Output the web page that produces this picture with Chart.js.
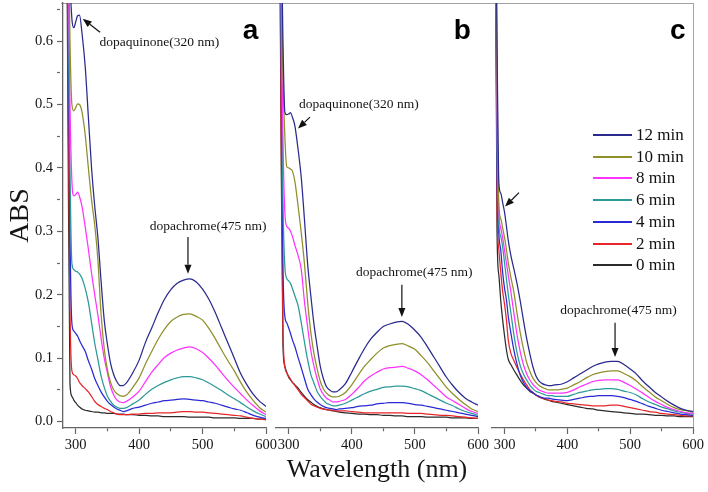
<!DOCTYPE html>
<html><head><meta charset="utf-8">
<script src="https://cdn.jsdelivr.net/npm/chart.js@4.4.1/dist/chart.umd.min.js"></script>
<style>
html,body{margin:0;padding:0;background:#fff;}
#wrap{position:relative;width:708px;height:492px;overflow:hidden;background:#fff;}
canvas{position:absolute;top:0;}
#frame{position:absolute;left:61px;top:2.5px;width:633px;height:426px;border-top:1.6px solid #a3a3a3;border-right:1.6px solid #a3a3a3;box-sizing:border-box;}
#legend{position:absolute;left:593px;top:124px;font-family:'Liberation Serif','Times New Roman',serif;font-size:17px;color:#111;}
.row{height:22px;margin-bottom:-0.3px;display:flex;align-items:center;white-space:nowrap;}
.sw{width:39px;height:2px;margin-right:4px;}
</style></head>
<body>
<div id="wrap">
  <div id="frame"></div>
  <canvas id="ca" width="280" height="492" style="left:0px"></canvas>
  <canvas id="cb" width="230" height="492" style="left:262px"></canvas>
  <canvas id="cc" width="230" height="492" style="left:478px"></canvas>
  <div id="legend"></div>
</div>
<script>
// ---------------- data ----------------
const wavelengths = [285,288,291,294,297,300,303,306,310,315,320,325,330,335,340,345,350,355,360,365,370,375,380,390,400,410,420,430,440,450,460,470,480,490,500,510,520,530,540,550,560,570,580,590,600];
const seriesLabels = ['12 min','10 min','8 min','6 min','4 min','2 min','0 min'];
const seriesColors = ['#2a2a8e','#8f8f2a','#ff33ff','#2b9999','#2a2ad4','#e8262a','#2b2b2b'];

// panel a
const a12 = [0.95,0.85,0.70,0.635,0.621,0.630,0.640,0.641,0.612,0.560,0.480,0.400,0.340,0.290,0.222,0.160,0.122,0.092,0.074,0.063,0.057,0.057,0.061,0.077,0.097,0.125,0.148,0.172,0.193,0.208,0.218,0.223,0.225,0.220,0.209,0.193,0.172,0.148,0.124,0.100,0.076,0.058,0.043,0.032,0.024];
const a10 = [0.95,0.80,0.60,0.500,0.490,0.495,0.501,0.500,0.488,0.452,0.400,0.350,0.310,0.255,0.170,0.115,0.082,0.062,0.050,0.044,0.041,0.040,0.042,0.054,0.069,0.091,0.111,0.130,0.146,0.158,0.165,0.169,0.170,0.166,0.160,0.147,0.131,0.113,0.096,0.080,0.062,0.046,0.033,0.022,0.015];
const a8  = [0.95,0.75,0.50,0.380,0.356,0.358,0.362,0.355,0.339,0.307,0.272,0.234,0.200,0.168,0.132,0.100,0.077,0.055,0.042,0.034,0.031,0.030,0.032,0.039,0.048,0.063,0.078,0.090,0.101,0.108,0.113,0.116,0.118,0.115,0.109,0.100,0.089,0.077,0.065,0.054,0.044,0.034,0.025,0.017,0.011];
const a6  = [0.95,0.70,0.40,0.250,0.240,0.237,0.236,0.233,0.226,0.210,0.188,0.156,0.124,0.098,0.072,0.054,0.040,0.032,0.026,0.023,0.021,0.021,0.022,0.028,0.034,0.043,0.051,0.057,0.062,0.066,0.069,0.071,0.071,0.069,0.066,0.061,0.055,0.049,0.042,0.036,0.030,0.023,0.017,0.012,0.008];
const a4  = [0.95,0.65,0.30,0.155,0.143,0.139,0.135,0.128,0.120,0.111,0.096,0.083,0.068,0.057,0.047,0.039,0.032,0.027,0.023,0.020,0.018,0.016,0.017,0.021,0.023,0.026,0.029,0.031,0.033,0.034,0.035,0.036,0.035,0.034,0.033,0.031,0.029,0.026,0.023,0.020,0.018,0.014,0.010,0.007,0.005];
const a2  = [0.95,0.55,0.18,0.080,0.074,0.072,0.068,0.062,0.057,0.052,0.047,0.040,0.032,0.027,0.024,0.021,0.019,0.016,0.014,0.012,0.011,0.011,0.011,0.012,0.012,0.013,0.013,0.014,0.014,0.014,0.015,0.016,0.016,0.015,0.015,0.014,0.013,0.012,0.011,0.010,0.009,0.007,0.005,0.004,0.003];
const a0  = [0.95,0.45,0.06,0.040,0.034,0.030,0.026,0.023,0.020,0.018,0.017,0.016,0.015,0.015,0.014,0.014,0.013,0.013,0.013,0.012,0.012,0.012,0.011,0.011,0.010,0.010,0.009,0.009,0.008,0.008,0.008,0.008,0.007,0.007,0.007,0.007,0.006,0.006,0.006,0.006,0.005,0.005,0.005,0.004,0.004];

// panel b
const b12 = [0.95,0.80,0.60,0.488,0.484,0.485,0.487,0.480,0.466,0.429,0.385,0.320,0.250,0.200,0.155,0.120,0.088,0.068,0.055,0.050,0.047,0.047,0.050,0.060,0.078,0.097,0.115,0.130,0.141,0.150,0.154,0.157,0.158,0.153,0.144,0.133,0.118,0.102,0.086,0.070,0.057,0.046,0.037,0.031,0.026];
const b10 = [0.95,0.75,0.55,0.45,0.402,0.400,0.398,0.395,0.378,0.340,0.298,0.250,0.190,0.142,0.108,0.084,0.064,0.052,0.045,0.041,0.039,0.039,0.040,0.046,0.058,0.073,0.087,0.098,0.108,0.116,0.120,0.122,0.123,0.119,0.114,0.104,0.093,0.080,0.067,0.054,0.044,0.035,0.027,0.020,0.016];
const b8  = [0.95,0.70,0.45,0.33,0.308,0.305,0.300,0.292,0.278,0.262,0.240,0.190,0.150,0.113,0.088,0.068,0.052,0.043,0.037,0.034,0.031,0.031,0.032,0.035,0.043,0.053,0.064,0.072,0.078,0.083,0.085,0.086,0.087,0.084,0.080,0.074,0.066,0.057,0.048,0.039,0.033,0.027,0.021,0.016,0.013];
const b6  = [0.95,0.65,0.35,0.245,0.226,0.222,0.218,0.210,0.198,0.183,0.156,0.126,0.098,0.075,0.061,0.048,0.040,0.034,0.029,0.027,0.025,0.025,0.026,0.029,0.034,0.039,0.044,0.048,0.051,0.054,0.055,0.056,0.056,0.055,0.052,0.049,0.044,0.039,0.034,0.029,0.025,0.020,0.016,0.013,0.010];
const b4  = [0.95,0.60,0.25,0.166,0.156,0.148,0.139,0.129,0.118,0.101,0.085,0.068,0.052,0.043,0.036,0.031,0.027,0.024,0.022,0.021,0.020,0.019,0.020,0.021,0.022,0.024,0.025,0.026,0.028,0.029,0.030,0.030,0.030,0.029,0.027,0.026,0.024,0.022,0.020,0.018,0.016,0.014,0.012,0.010,0.008];
const b2  = [0.95,0.50,0.15,0.088,0.077,0.072,0.067,0.062,0.057,0.050,0.043,0.038,0.033,0.028,0.025,0.023,0.021,0.020,0.019,0.018,0.018,0.017,0.017,0.017,0.016,0.015,0.014,0.014,0.014,0.014,0.014,0.014,0.014,0.013,0.013,0.013,0.012,0.011,0.010,0.010,0.009,0.008,0.007,0.006,0.005];
const b0  = [0.95,0.45,0.12,0.087,0.078,0.070,0.066,0.062,0.058,0.053,0.046,0.040,0.035,0.031,0.027,0.024,0.022,0.020,0.019,0.018,0.017,0.016,0.015,0.014,0.013,0.012,0.012,0.011,0.011,0.010,0.010,0.009,0.009,0.008,0.008,0.008,0.007,0.007,0.007,0.007,0.006,0.006,0.006,0.005,0.005];

// panel c
const c12 = [0.95,0.60,0.375,0.360,0.345,0.330,0.308,0.285,0.262,0.240,0.217,0.190,0.160,0.132,0.108,0.087,0.072,0.064,0.060,0.058,0.057,0.057,0.058,0.059,0.063,0.069,0.075,0.081,0.087,0.091,0.094,0.095,0.095,0.090,0.083,0.075,0.064,0.055,0.046,0.039,0.032,0.026,0.021,0.018,0.016];
const c10 = [0.95,0.55,0.340,0.320,0.305,0.290,0.271,0.250,0.228,0.203,0.170,0.140,0.115,0.094,0.080,0.069,0.062,0.057,0.054,0.052,0.050,0.050,0.050,0.051,0.053,0.058,0.063,0.069,0.074,0.077,0.079,0.080,0.080,0.076,0.071,0.064,0.055,0.047,0.039,0.033,0.027,0.022,0.019,0.017,0.015];
const c8  = [0.95,0.50,0.330,0.305,0.290,0.270,0.250,0.230,0.205,0.170,0.136,0.110,0.090,0.076,0.066,0.059,0.054,0.050,0.048,0.046,0.045,0.045,0.045,0.045,0.046,0.050,0.055,0.059,0.063,0.065,0.066,0.066,0.066,0.062,0.057,0.051,0.045,0.038,0.032,0.027,0.022,0.019,0.016,0.014,0.013];
const c6  = [0.95,0.45,0.310,0.292,0.275,0.250,0.225,0.200,0.172,0.136,0.108,0.088,0.075,0.066,0.058,0.052,0.048,0.046,0.044,0.042,0.041,0.041,0.040,0.040,0.040,0.043,0.046,0.048,0.050,0.051,0.052,0.052,0.051,0.048,0.046,0.042,0.036,0.031,0.027,0.023,0.020,0.017,0.015,0.013,0.012];
const c4  = [0.95,0.40,0.295,0.270,0.235,0.210,0.192,0.165,0.140,0.112,0.090,0.073,0.062,0.054,0.049,0.046,0.042,0.040,0.038,0.037,0.037,0.036,0.035,0.034,0.033,0.035,0.037,0.039,0.040,0.041,0.041,0.041,0.040,0.038,0.035,0.032,0.028,0.024,0.021,0.018,0.016,0.014,0.012,0.011,0.010];
const c2  = [0.95,0.35,0.270,0.235,0.205,0.185,0.160,0.128,0.108,0.096,0.085,0.075,0.066,0.058,0.051,0.046,0.042,0.039,0.037,0.036,0.034,0.033,0.032,0.031,0.029,0.028,0.027,0.026,0.025,0.025,0.025,0.026,0.026,0.024,0.022,0.020,0.018,0.016,0.015,0.013,0.012,0.011,0.010,0.009,0.009];
const c0  = [0.95,0.30,0.230,0.190,0.160,0.135,0.113,0.098,0.090,0.081,0.073,0.065,0.058,0.053,0.048,0.045,0.042,0.039,0.037,0.035,0.034,0.032,0.031,0.029,0.027,0.025,0.023,0.021,0.020,0.018,0.017,0.016,0.015,0.014,0.013,0.012,0.012,0.011,0.010,0.010,0.009,0.009,0.008,0.008,0.008];

// ---------------- styling / layout ----------------
const SERIF = "'Liberation Serif','Times New Roman',serif";
const SANS = "'Liberation Sans',Arial,sans-serif";
const AXIS_COLOR = '#666';
const TEXT_COLOR = '#151515';
const noteFont = '13.5px ' + SERIF;

const panels = [
  { id:'ca', series:[a12,a10,a8,a6,a4,a2,a0], padL:0, padR:14, showY:true, xTitle:false,
    notes:[
      {kind:'text', text:'dopaquinone(320 nm)', x:432, y:0.598},
      {kind:'arrow', from:[338.4,0.614], to:[311,0.635]},
      {kind:'text', text:'dopachrome(475 nm)', x:508.7, y:0.307},
      {kind:'arrow', from:[477,0.291], to:[477,0.233]},
      {kind:'letter', text:'a', x:588, y:0.6027}
    ]},
  { id:'cb', series:[b12,b10,b8,b6,b4,b2,b0], padL:14, padR:14, showY:false, xTitle:true,
    notes:[
      {kind:'text', text:'dopaquinone(320 nm)', x:411.3, y:0.500},
      {kind:'arrow', from:[333.8,0.480], to:[314.8,0.462]},
      {kind:'text', text:'dopachrome(475 nm)', x:499, y:0.235},
      {kind:'arrow', from:[479.4,0.216], to:[479.4,0.165]},
      {kind:'letter', text:'b', x:588.5, y:0.6027}
    ]},
  { id:'cc', series:[c12,c10,c8,c6,c4,c2,c0], padL:14, padR:15, showY:false, xTitle:false,
    notes:[
      {kind:'arrow', from:[323,0.361], to:[300.7,0.339]},
      {kind:'text', text:'dopachrome(475 nm)', x:481.4, y:0.176},
      {kind:'arrow', from:[475.9,0.156], to:[475.9,0.102]},
      {kind:'letter', text:'c', x:588, y:0.6027}
    ]}
];

const notesPlugin = {
  id:'notes',
  afterDatasetsDraw(chart, args, opts){
    const ctx = chart.ctx, xs = chart.scales.x, ys = chart.scales.y;
    ctx.save();
    (opts.items || []).forEach(n => {
      ctx.fillStyle = TEXT_COLOR; ctx.strokeStyle = '#111';
      if (n.kind === 'text') {
        ctx.font = noteFont; ctx.textAlign = 'center'; ctx.textBaseline = 'middle';
        ctx.fillText(n.text, xs.getPixelForValue(n.x), ys.getPixelForValue(n.y));
      } else if (n.kind === 'letter') {
        ctx.font = 'bold 28px ' + SANS; ctx.textAlign = 'right'; ctx.textBaseline = 'alphabetic';
        ctx.fillStyle = '#000';
        ctx.fillText(n.text, xs.getPixelForValue(n.x), ys.getPixelForValue(n.y));
      } else if (n.kind === 'arrow') {
        const x0 = xs.getPixelForValue(n.from[0]), y0 = ys.getPixelForValue(n.from[1]);
        const x1 = xs.getPixelForValue(n.to[0]), y1 = ys.getPixelForValue(n.to[1]);
        const ang = Math.atan2(y1 - y0, x1 - x0), L = 9, W = 3.5;
        const bx = x1 - L * Math.cos(ang), by = y1 - L * Math.sin(ang);
        ctx.lineWidth = 1.2;
        ctx.beginPath(); ctx.moveTo(x0, y0); ctx.lineTo(bx, by); ctx.stroke();
        ctx.beginPath();
        ctx.moveTo(x1, y1);
        ctx.lineTo(bx + W * Math.sin(ang), by - W * Math.cos(ang));
        ctx.lineTo(bx - W * Math.sin(ang), by + W * Math.cos(ang));
        ctx.closePath(); ctx.fillStyle = '#111'; ctx.fill();
      }
    });
    ctx.restore();
  }
};

function isMajorX(v){ return Math.round(v) % 100 === 0; }
function isMajorY(v){ return Math.round(v * 100) % 10 === 0; }

panels.forEach(p => {
  const datasets = p.series.map((vals, i) => ({
    label: seriesLabels[i],
    data: wavelengths.map((w, k) => ({x: w, y: vals[k]})),
    borderColor: seriesColors[i],
    backgroundColor: seriesColors[i],
    borderWidth: 1.25,
    pointRadius: 0,
    fill: false,
    cubicInterpolationMode: 'monotone'
  }));
  new Chart(document.getElementById(p.id), {
    type: 'line',
    data: { datasets },
    plugins: [notesPlugin],
    options: {
      responsive: false, animation: false, devicePixelRatio: 1,
      layout: { padding: { left: p.padL, right: p.padR, top: 3, bottom: 0 } },
      plugins: { legend: { display: false }, tooltip: { enabled: false }, notes: { items: p.notes } },
      scales: {
        x: {
          type: 'linear', min: 280, max: 600,
          afterFit(s){ s.height = 64; s.paddingLeft = 0; s.paddingRight = 0; },
          ticks: {
            stepSize: 50, includeBounds: false, autoSkip: false, maxRotation: 0, padding: 2,
            color: TEXT_COLOR, font: { family: SERIF, size: 14.5 },
            callback: v => isMajorX(v) ? String(Math.round(v)) : ''
          },
          grid: { drawOnChartArea: false, tickLength: 6, color: AXIS_COLOR, tickWidth: 1.2,
                  tickBorderDash: c => (c.tick && isMajorX(c.tick.value)) ? [] : [3, 30] },
          border: { color: AXIS_COLOR, width: 1.3 },
          title: { display: p.xTitle, text: 'Wavelength (nm)', color: TEXT_COLOR,
                   font: { family: SERIF, size: 26 }, padding: { top: 0, bottom: 6 } }
        },
        y: {
          display: p.showY, min: -0.01, max: 0.66,
          afterFit(s){ s.width = p.showY ? 63 : 0; s.paddingTop = 0; s.paddingBottom = 0; },
          ticks: {
            stepSize: 0.05, includeBounds: false, autoSkip: false, padding: 4,
            color: TEXT_COLOR, font: { family: SERIF, size: 14.5 },
            callback: v => isMajorY(v) ? (Math.round(v * 10) / 10).toFixed(1) : ''
          },
          grid: { drawOnChartArea: false, tickLength: 6, color: AXIS_COLOR, tickWidth: 1.2,
                  tickBorderDash: c => (c.tick && isMajorY(c.tick.value)) ? [] : [3, 30] },
          border: { color: AXIS_COLOR, width: 1.3 },
          title: { display: true, text: 'ABS', color: TEXT_COLOR,
                   font: { family: SERIF, size: 28 }, padding: { top: 4, bottom: 0 } }
        }
      }
    }
  });
});

// legend (HTML, built from the series labels/colours)
const lg = document.getElementById('legend');
seriesLabels.forEach((lab, i) => {
  const row = document.createElement('div'); row.className = 'row';
  const sw = document.createElement('span'); sw.className = 'sw'; sw.style.background = seriesColors[i];
  const tx = document.createElement('span'); tx.textContent = lab;
  row.appendChild(sw); row.appendChild(tx); lg.appendChild(row);
});
</script>
</body></html>
